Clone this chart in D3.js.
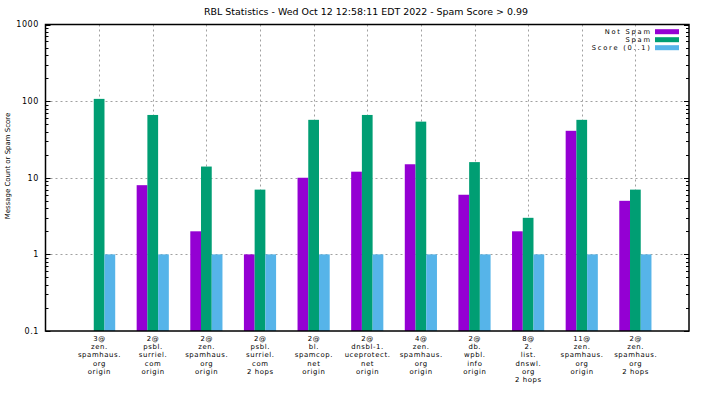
<!DOCTYPE html>
<html><head><meta charset="utf-8">
<script src="https://cdn.jsdelivr.net/npm/d3@7"></script>
<style>
html,body{margin:0;padding:0;background:#fff;}
text{font-family:"DejaVu Sans",sans-serif;fill:#000;}
</style></head>
<body>
<svg id="c" width="704" height="396"></svg>
<script>
const titleText = "RBL Statistics - Wed Oct 12 12:58:11 EDT 2022 - Spam Score > 0.99";
const yLabelText = "Message Count or Spam Score";
const categories = [
  ["3@","zen.","spamhaus.","org","origin"],
  ["2@","psbl.","surriel.","com","origin"],
  ["2@","zen.","spamhaus.","org","origin"],
  ["2@","psbl.","surriel.","com","2 hops"],
  ["2@","bl.","spamcop.","net","origin"],
  ["2@","dnsbl-1.","uceprotect.","net","origin"],
  ["4@","zen.","spamhaus.","org","origin"],
  ["2@","db.","wpbl.","info","origin"],
  ["8@","2.","list.","dnswl.","org","2 hops"],
  ["11@","zen.","spamhaus.","org","origin"],
  ["2@","zen.","spamhaus.","org","2 hops"]
];
const notSpam = [null, 8, 2, 1, 10, 12, 15, 6, 2, 41, 5];
const spam    = [107, 66, 14, 7, 57, 66, 54, 16, 3, 57, 7];
const score   = [1, 1, 1, 1, 1, 1, 1, 1, 1, 1, 1];
const seriesNames = ["Not Spam", "Spam", "Score (0..1)"];
const seriesColors = ["#9400d3", "#009e73", "#56b4e9"];
const yTicks = [0.1, 1, 10, 100, 1000];
const yTickLabels = ["0.1", "1", "10", "100", "1000"];

const svg = d3.select("#c");
const L = 45.5, R = 689, T = 24.5, B = 331;
const x = d3.scaleLinear().domain([-1, 11]).range([L, R]);
const y = d3.scaleLog().domain([0.1, 1000]).range([B, T]);

function fit(sel, target) {
  sel.attr("font-size", 10);
  const w = sel.node().getComputedTextLength();
  sel.attr("font-size", 10 * target / w);
}
function fitLS(sel, size, target) {
  sel.attr("font-size", size).attr("letter-spacing", 0);
  const w = sel.node().getComputedTextLength();
  const n = sel.text().length;
  return (target - w) / n;
}

// grid
const grid = svg.append("g").attr("stroke", "#a0a0a0").attr("stroke-width", 1).attr("stroke-dasharray", "2,3");
grid.selectAll(".gy").data([1, 10, 100]).join("line")
  .attr("x1", L).attr("x2", R).attr("y1", d => Math.round(y(d)) + 0.5).attr("y2", d => Math.round(y(d)) + 0.5);
grid.selectAll(".gx").data(d3.range(categories.length)).join("line")
  .attr("y1", T).attr("y2", B).attr("x1", d => Math.round(x(d)) + 0.5).attr("x2", d => Math.round(x(d)) + 0.5);

// bars
const allSeries = [notSpam, spam, score];
const bw = 0.2;
allSeries.forEach((vals, s) => {
  const off = (s - 1) * bw;
  svg.append("g").selectAll("rect").data(vals.map((v, i) => ({v, i})).filter(d => d.v != null && d.v > 0))
    .join("rect")
    .attr("x", d => x(d.i + off - bw / 2))
    .attr("width", d => x(d.i + off + bw / 2) - x(d.i + off - bw / 2))
    .attr("y", d => y(d.v))
    .attr("height", d => B - y(d.v))
    .attr("fill", seriesColors[s]);
});

// minor / major ticks on left and right
const ticks = [];
for (let e = -1; e < 3; e++) for (let m = 1; m < 10; m++) ticks.push({v: m * Math.pow(10, e), major: m === 1});
ticks.push({v: 1000, major: true});
const tg = svg.append("g").attr("stroke", "#000").attr("stroke-width", 1);
tg.selectAll(".tl").data(ticks).join("line")
  .attr("x1", L).attr("x2", d => L + (d.major ? 5 : 3))
  .attr("y1", d => Math.round(y(d.v)) + 0.5).attr("y2", d => Math.round(y(d.v)) + 0.5);
tg.selectAll(".tr").data(ticks).join("line")
  .attr("x1", R).attr("x2", d => R - (d.major ? 5 : 3))
  .attr("y1", d => Math.round(y(d.v)) + 0.5).attr("y2", d => Math.round(y(d.v)) + 0.5);

// frame
svg.append("rect").attr("x", L).attr("y", T).attr("width", R - L).attr("height", B - T)
  .attr("fill", "none").attr("stroke", "#000").attr("stroke-width", 1.5);

// y tick labels
svg.append("g").selectAll("text").data(yTicks).join("text")
  .attr("x", 39).attr("y", d => y(d)).attr("dy", "0.35em").attr("text-anchor", "end")
  .attr("font-size", 8).attr("letter-spacing", 0.6)
  .text((d, i) => yTickLabels[i]);

// x labels
const probe = svg.append("text").text("spamhaus.");
const xls = fitLS(probe, 6.9, 43);
probe.remove();
const xl = svg.append("g").selectAll("g").data(categories).join("g");
xl.each(function (lines, i) {
  d3.select(this).selectAll("text").data(lines).join("text")
    .attr("x", x(i) + xls / 2).attr("y", (d, k) => 338.5 + 8.2 * k).attr("dy", "0.35em")
    .attr("text-anchor", "middle").attr("font-size", 6.9).attr("letter-spacing", xls).text(d => d);
});

// title
const title = svg.append("text").attr("x", 366).attr("y", 12).attr("dy", "0.35em")
  .attr("text-anchor", "middle").text(titleText);
fit(title, 324);

// y label
const ylab = svg.append("text").attr("transform", "translate(8,166) rotate(-90)")
  .attr("dy", "0.35em").attr("text-anchor", "middle").text(yLabelText);
fit(ylab, 106.6);

// legend
const probe2 = svg.append("text").text("Score (0..1)");
const lls = fitLS(probe2, 6.7, 60);
probe2.remove();
const lg = svg.append("g");
seriesNames.forEach((n, s) => {
  const cy = 31.7 + 8 * s;
  lg.append("text").attr("x", 650 + lls).attr("y", cy).attr("dy", "0.35em")
    .attr("text-anchor", "end").attr("font-size", 6.7).attr("letter-spacing", lls).text(n);
  lg.append("rect").attr("x", 655).attr("y", cy - 2.5).attr("width", 24).attr("height", 5)
    .attr("fill", seriesColors[s]);
});
</script>
</body></html>
